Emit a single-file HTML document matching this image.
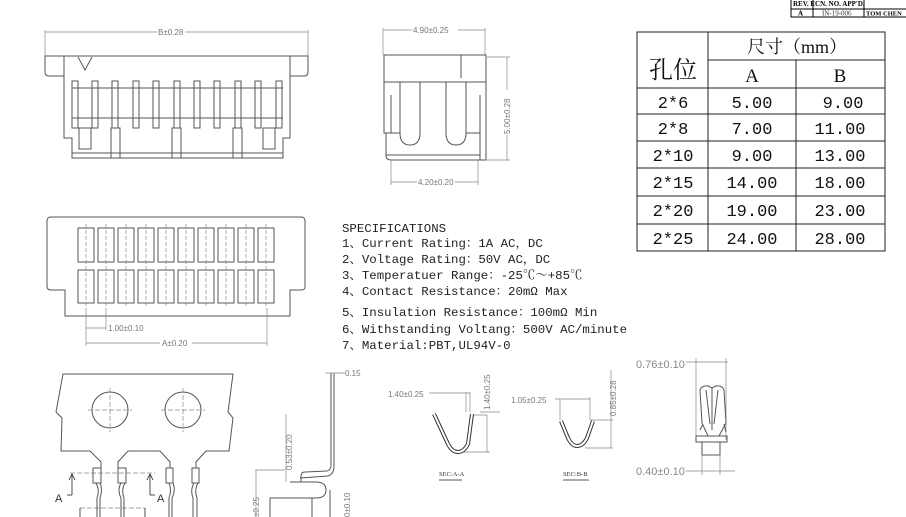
<!DOCTYPE html>
<html><head><meta charset="utf-8"><style>
html,body{margin:0;padding:0;background:#fff;}
svg{display:block;}
.l{stroke:#555;stroke-width:1;fill:none;}
.d{stroke:#888;stroke-width:0.7;fill:none;}
.dim{font-family:"Liberation Sans",sans-serif;font-size:8px;fill:#777;}
.spec{font-family:"Liberation Mono","Noto Serif CJK SC",monospace;font-size:12.4px;fill:#222;}
.t{font-family:"Liberation Mono","Noto Serif CJK SC",monospace;font-size:17px;fill:#111;text-anchor:middle;}
</style></head><body>
<svg width="906" height="517" viewBox="0 0 906 517" xmlns="http://www.w3.org/2000/svg">
<!-- title block -->
<g stroke="#000" stroke-width="1" fill="none">
<rect x="791" y="-2" width="120" height="19"/>
<line x1="791" y1="9" x2="906" y2="9"/>
<line x1="813" y1="-2" x2="813" y2="17"/>
<line x1="864" y1="-2" x2="864" y2="17"/>
</g>
<text x="798" y="15.5" font-family="Liberation Serif" font-size="7" font-weight="bold">A</text>
<text x="822" y="15.5" font-family="Liberation Serif" font-size="7" fill="#333">IN-19-006</text>
<text x="866" y="15.5" font-family="Liberation Serif" font-size="6.5" font-weight="bold">TOM CHEN</text>
<text x="793" y="6" font-family="Liberation Serif" font-size="7" font-weight="bold">REV.  ECN. NO.    APP'D.</text>

<!-- top-left view -->
<line class="d" x1="45" y1="30" x2="45" y2="56"/><line class="d" x1="308" y1="30" x2="308" y2="56"/>
<line class="d" x1="45" y1="32" x2="157" y2="32"/><line class="d" x1="185" y1="32" x2="308" y2="32"/>
<text class="dim" x="158" y="35">B±0.28</text>
<path class="l" d="M45 56 H308 V72 Q308 76 304 76 H290 V138 H283 V158 H72 V138 H64 V76 H49 Q45 76 45 72 Z"/>
<line class="l" x1="64" y1="56" x2="64" y2="76"/><line class="l" x1="290" y1="56" x2="290" y2="76"/>
<path class="l" d="M78 57 L85 70 L92 57"/>
<line class="l" x1="72" y1="88" x2="283" y2="88"/><line class="l" x1="72" y1="118" x2="283" y2="118"/>
<line class="l" x1="72" y1="153" x2="283" y2="153"/>
<g class="l">
<rect x="72" y="81" width="6" height="47"/><rect x="92" y="81" width="6" height="47"/><rect x="112" y="81" width="6" height="47"/><rect x="133" y="81" width="6" height="47"/><rect x="153" y="81" width="6" height="47"/><rect x="174" y="81" width="6" height="47"/><rect x="194" y="81" width="6" height="47"/><rect x="214" y="81" width="6" height="47"/><rect x="235" y="81" width="6" height="47"/><rect x="255" y="81" width="6" height="47"/><rect x="276" y="81" width="6" height="47"/>
<rect x="79" y="128" width="12" height="21"/><rect x="263" y="128" width="12" height="21"/>
<rect x="111" y="128" width="9" height="30"/><rect x="172" y="128" width="9" height="30"/><rect x="233" y="128" width="9" height="30"/>
</g>

<!-- top-middle view -->
<line class="d" x1="383" y1="28" x2="383" y2="55"/><line class="d" x1="485" y1="28" x2="485" y2="55"/>
<line class="d" x1="383" y1="30" x2="412" y2="30"/><line class="d" x1="458" y1="30" x2="485" y2="30"/>
<text class="dim" x="413" y="33">4.90±0.25</text>
<path class="l" d="M384 55 H486 V160 H391 Q386 160 386 155 V133 H384 Z"/>
<line class="l" x1="384" y1="82" x2="486" y2="82"/>
<line class="l" x1="461" y1="55" x2="461" y2="78"/>
<path class="l" d="M400 82 V133 Q400 145 410 145 Q420 145 420 133 V82"/>
<path class="l" d="M446 82 V133 Q446 145 456 145 Q466 145 466 133 V82"/>
<line class="l" x1="386" y1="133" x2="400" y2="133"/><line class="l" x1="466" y1="133" x2="480" y2="133"/>
<line class="l" x1="480" y1="95" x2="480" y2="160"/><line class="l" x1="391" y1="95" x2="391" y2="133"/>
<line class="l" x1="386" y1="155" x2="480" y2="155"/>
<line class="d" x1="487" y1="57" x2="510" y2="57"/><line class="d" x1="487" y1="160" x2="510" y2="160"/>
<line class="d" x1="507" y1="57" x2="507" y2="90"/><line class="d" x1="507" y1="135" x2="507" y2="160"/>
<text class="dim" transform="translate(510,134) rotate(-90)">5.00±0.28</text>
<line class="d" x1="391" y1="160" x2="391" y2="185"/><line class="d" x1="478" y1="160" x2="478" y2="185"/>
<line class="d" x1="391" y1="182" x2="417" y2="182"/><line class="d" x1="455" y1="182" x2="478" y2="182"/>
<text class="dim" x="418" y="185">4.20±0.20</text>

<!-- middle-left view -->
<path class="l" d="M51 217 H301 Q305 217 305 221 V287 Q305 290 301 290 H290 V316 H65 V290 H51 Q47 290 47 286 V221 Q47 217 51 217 Z"/>
<g class="l">
<rect x="78" y="228" width="16" height="34"/><rect x="98" y="228" width="16" height="34"/><rect x="118" y="228" width="16" height="34"/><rect x="138" y="228" width="16" height="34"/><rect x="158" y="228" width="16" height="34"/><rect x="178" y="228" width="16" height="34"/><rect x="198" y="228" width="16" height="34"/><rect x="218" y="228" width="16" height="34"/><rect x="238" y="228" width="16" height="34"/><rect x="258" y="228" width="16" height="34"/>
<rect x="78" y="270" width="16" height="33"/><rect x="98" y="270" width="16" height="33"/><rect x="118" y="270" width="16" height="33"/><rect x="138" y="270" width="16" height="33"/><rect x="158" y="270" width="16" height="33"/><rect x="178" y="270" width="16" height="33"/><rect x="198" y="270" width="16" height="33"/><rect x="218" y="270" width="16" height="33"/><rect x="238" y="270" width="16" height="33"/><rect x="258" y="270" width="16" height="33"/>
</g>
<g class="d" stroke-dasharray="4,2">
<line x1="86" y1="224" x2="86" y2="308"/><line x1="106" y1="224" x2="106" y2="308"/><line x1="126" y1="224" x2="126" y2="308"/><line x1="146" y1="224" x2="146" y2="308"/><line x1="166" y1="224" x2="166" y2="308"/><line x1="186" y1="224" x2="186" y2="308"/><line x1="206" y1="224" x2="206" y2="308"/><line x1="226" y1="224" x2="226" y2="308"/><line x1="246" y1="224" x2="246" y2="308"/><line x1="266" y1="224" x2="266" y2="308"/>
</g>
<g class="d">
<line x1="86" y1="308" x2="86" y2="346"/><line x1="106" y1="308" x2="106" y2="330"/><line x1="267" y1="308" x2="267" y2="346"/>
<line x1="86" y1="328" x2="106" y2="328"/><line x1="86" y1="343" x2="160" y2="343"/><line x1="192" y1="343" x2="267" y2="343"/>
</g>
<text class="dim" x="108" y="331">1.00±0.10</text>
<text class="dim" x="162" y="346">A±0.20</text>

<!-- specs -->
<text class="spec" x="342" y="232">SPECIFICATIONS</text>
<text class="spec" x="342" y="247">1、Current Rating：1A AC，DC</text>
<text class="spec" x="342" y="263">2、Voltage Rating：50V AC，DC</text>
<text class="spec" x="342" y="279">3、Temperatuer Range：-25℃～+85℃</text>
<text class="spec" x="342" y="295">4、Contact Resistance：20mΩ Max</text>
<text class="spec" x="342" y="316">5、Insulation Resistance：100mΩ Min</text>
<text class="spec" x="342" y="333">6、Withstanding Voltang：500V AC/minute</text>
<text class="spec" x="342" y="349">7、Material:PBT,UL94V-0</text>

<!-- table -->
<g stroke="#222" stroke-width="1" fill="none">
<rect x="637" y="32" width="248" height="219"/>
<line x1="708" y1="32" x2="708" y2="251"/>
<line x1="796" y1="60" x2="796" y2="251"/>
<line x1="708" y1="60" x2="885" y2="60"/>
<line x1="637" y1="88" x2="885" y2="88"/><line x1="637" y1="114" x2="885" y2="114"/><line x1="637" y1="141" x2="885" y2="141"/><line x1="637" y1="168" x2="885" y2="168"/><line x1="637" y1="196" x2="885" y2="196"/><line x1="637" y1="224" x2="885" y2="224"/>
</g>
<text x="673" y="78" font-family="'Noto Serif CJK SC',serif" font-size="24" text-anchor="middle" fill="#111">孔位</text>
<text x="797" y="53" font-family="'Liberation Serif','Noto Serif CJK SC',serif" font-size="18" text-anchor="middle" fill="#111">尺寸（mm）</text>
<text x="752" y="82" font-family="Liberation Serif" font-size="19" text-anchor="middle" fill="#111">A</text><text x="840" y="82" font-family="Liberation Serif" font-size="19" text-anchor="middle" fill="#111">B</text>
<text class="t" x="673" y="108">2*6</text><text class="t" x="752" y="108">5.00</text><text class="t" x="843" y="108">9.00</text>
<text class="t" x="673" y="134">2*8</text><text class="t" x="752" y="134">7.00</text><text class="t" x="840" y="134">11.00</text>
<text class="t" x="673" y="161">2*10</text><text class="t" x="752" y="161">9.00</text><text class="t" x="840" y="161">13.00</text>
<text class="t" x="673" y="188">2*15</text><text class="t" x="752" y="188">14.00</text><text class="t" x="840" y="188">18.00</text>
<text class="t" x="673" y="216">2*20</text><text class="t" x="752" y="216">19.00</text><text class="t" x="840" y="216">23.00</text>
<text class="t" x="673" y="244">2*25</text><text class="t" x="752" y="244">24.00</text><text class="t" x="840" y="244">28.00</text>

<!-- bottom-left carrier strip -->
<path class="l" d="M90 451 H61 L62 418 L56 412 L63 374 H233 L228 412 L233 418 L229 451 L206 451"/>
<path class="l" d="M90 451 L101 462 V468"/>
<path class="l" d="M128 451 L118 462 V468 M128 451 H160 L170 462 V468"/>
<path class="l" d="M206 451 L196 462 V468"/>
<circle class="l" cx="110" cy="410" r="18"/><circle class="l" cx="183" cy="410" r="18"/>
<g class="d" stroke-dasharray="5,2">
<line x1="88" y1="410" x2="132" y2="410"/><line x1="110" y1="388" x2="110" y2="432"/>
<line x1="161" y1="410" x2="205" y2="410"/><line x1="183" y1="388" x2="183" y2="432"/>
<line x1="70" y1="473" x2="155" y2="473"/><line x1="80" y1="508" x2="145" y2="508"/>
</g>
<g class="l">
<rect x="93" y="468" width="8" height="15"/><rect x="118" y="468" width="8" height="15"/>
<rect x="166" y="468" width="7" height="15"/><rect x="192" y="468" width="7" height="15"/>
<path d="M96 483 Q100 490 97 498 V517 M100 483 Q103 490 100 498 V517"/>
<path d="M121 483 Q117 490 121 498 V517 M125 483 Q121 490 124 498 V517"/>
<path d="M169 483 Q172 490 169 498 V517 M173 483 Q176 490 172 498 V517"/>
<path d="M194 483 Q190 490 193 498 V517 M198 483 Q194 490 197 498 V517"/>
</g>
<g stroke="#222" stroke-width="0.8" fill="none">
<path d="M72 495 V474"/><path d="M69 480 L72 474 L75 480"/><path d="M72 495 H67"/>
<path d="M150 495 V474"/><path d="M147 480 L150 474 L153 480"/><path d="M150 495 H155"/>
<line x1="80" y1="508" x2="80" y2="517"/><line x1="145" y1="508" x2="145" y2="517"/>
</g>
<text x="55" y="502" font-family="Liberation Sans" font-size="11" fill="#333">A</text>
<text x="157" y="502" font-family="Liberation Sans" font-size="11" fill="#333">A</text>
<!-- side view -->
<path class="l" d="M331 373 V465 Q331 470 327 471 L305 472 Q301 472 301 476 V482 H290 M334 373 V466 Q334 474 328 476 L300 478"/>
<path class="l" d="M301 482 H316 Q326 482 326 490 Q326 498 316 498 H270 V517 M312 498 V517"/>
<line class="d" x1="325" y1="373" x2="345" y2="373"/>
<text class="dim" x="345" y="376">0.15</text>
<line class="d" x1="286" y1="414" x2="286" y2="482"/>
<text class="dim" transform="translate(292,470) rotate(-90)">0.53±0.20</text>
<line class="d" x1="255" y1="470" x2="285" y2="470"/><line class="d" x1="256" y1="470" x2="256" y2="517"/>
<text class="dim" transform="translate(259,517) rotate(-90)">±0.25</text>
<line class="l" x1="330" y1="490" x2="330" y2="517"/>
<text class="dim" transform="translate(350,517) rotate(-90)">0±0.10</text>

<!-- sections -->
<line class="d" x1="429" y1="393" x2="470" y2="393"/><line class="d" x1="466" y1="392" x2="466" y2="412"/><line class="d" x1="470" y1="392" x2="470" y2="412"/>
<line class="d" x1="470" y1="415" x2="487" y2="415"/><line class="d" x1="480" y1="412" x2="500" y2="412"/><line class="d" x1="452" y1="452" x2="490" y2="452"/><line class="d" x1="487" y1="415" x2="487" y2="452"/>
<text class="dim" x="388" y="397">1.40±0.25</text>
<text class="dim" transform="translate(490,410) rotate(-90)">1.40±0.25</text>
<path d="M434 414 L448 444 Q452 452 458 452 Q464 452 468 444 L472 414" fill="none" stroke="#333" stroke-width="4"/>
<path d="M434 414 L448 444 Q452 452 458 452 Q464 452 468 444 L472 414" fill="none" stroke="#fff" stroke-width="2"/>
<text x="439" y="476" font-family="Liberation Serif" font-size="6.5" fill="#333">SEC:A-A</text><line class="l" x1="439" y1="480" x2="462" y2="480"/>
<line class="d" x1="555" y1="399" x2="590" y2="399"/><line class="d" x1="560" y1="399" x2="560" y2="420"/><line class="d" x1="590" y1="397" x2="590" y2="420"/>
<line class="d" x1="590" y1="420" x2="613" y2="420"/><line class="d" x1="585" y1="448" x2="613" y2="448"/><line class="d" x1="611" y1="370" x2="611" y2="448"/>
<text class="dim" x="511" y="403">1.05±0.25</text>
<text class="dim" transform="translate(616,416) rotate(-90)">0.85±0.28</text>
<path d="M561 421 L568 438 Q572 446 577 446 Q583 446 587 438 L593 421" fill="none" stroke="#333" stroke-width="4"/>
<path d="M561 421 L568 438 Q572 446 577 446 Q583 446 587 438 L593 421" fill="none" stroke="#fff" stroke-width="2"/>
<text x="563" y="476" font-family="Liberation Serif" font-size="6.5" fill="#333">SEC:B-B</text><line class="l" x1="563" y1="480" x2="589" y2="480"/>

<!-- right pin view -->
<text x="636" y="368" font-family="Liberation Sans" font-size="11" fill="#888">0.76±0.10</text>
<line class="d" x1="686" y1="362" x2="728" y2="362"/>
<line class="d" x1="696" y1="358" x2="696" y2="440"/><line class="d" x1="726" y1="358" x2="726" y2="440"/>
<path class="l" d="M700 390 Q702 385 708 386 L712 388 L716 386 Q722 385 724 390 L726 423 L719 436 M700 390 L702 423 L708 436 M712 388 V430 M706 390 L710 424 M718 390 L714 424 M703 424 L700 430 M724 424 L726 432"/>
<rect class="l" x="696" y="436" width="31" height="6"/>
<rect class="l" x="702" y="442" width="18" height="13"/>
<line class="d" x1="702" y1="455" x2="702" y2="475"/><line class="d" x1="720" y1="455" x2="720" y2="475"/>
<text x="636" y="475" font-family="Liberation Sans" font-size="11" fill="#888">0.40±0.10</text>
<line class="d" x1="686" y1="471" x2="735" y2="471"/>
</svg>
</body></html>
